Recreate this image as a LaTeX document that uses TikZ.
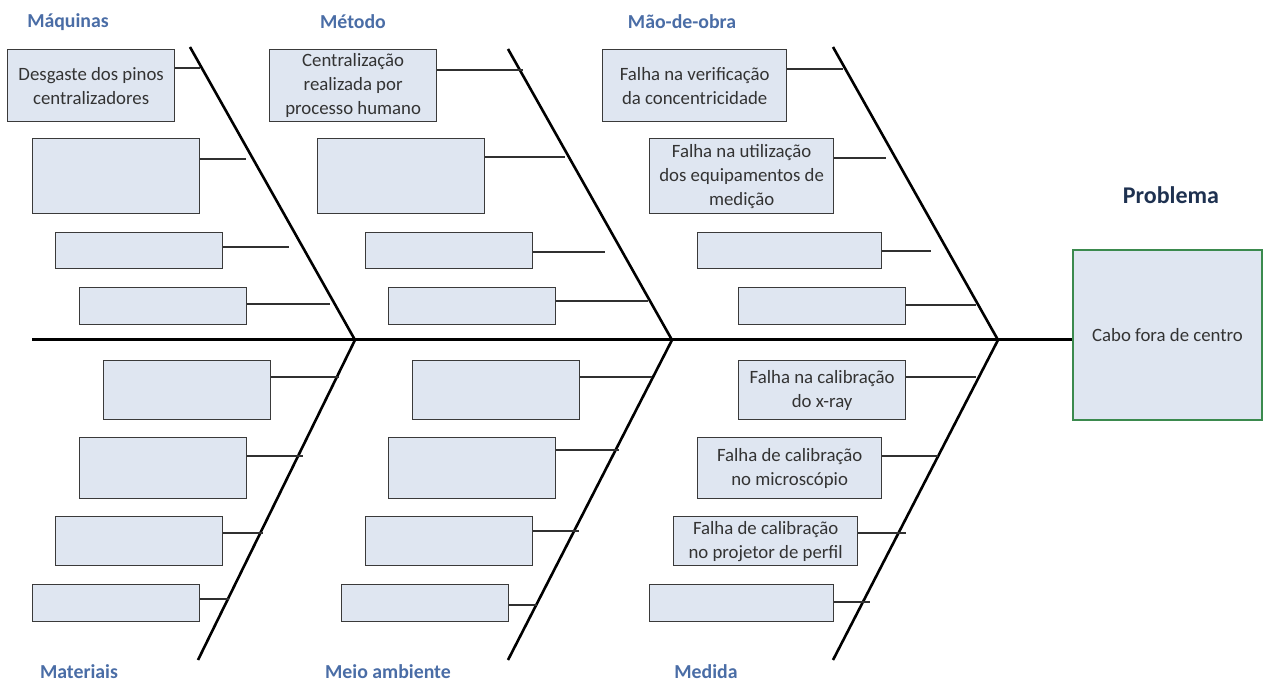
\documentclass[tikz,border=0pt]{standalone}
\usepackage{fontspec}
\setmainfont{Carlito}
\definecolor{boxfill}{HTML}{DFE6F1}
\definecolor{boxline}{HTML}{3A3A3A}
\definecolor{twiggray}{HTML}{303030}
\definecolor{catblue}{HTML}{4A6DA6}
\definecolor{probnavy}{HTML}{1E3150}
\definecolor{probgreen}{HTML}{3B8A4E}
\tikzset{
  cause/.style={draw=boxline, line width=1.3pt, fill=boxfill, inner sep=0pt,
    align=center, anchor=north west,
    font=\fontsize{18.8}{24}\selectfont, text=black!80},
  category/.style={font=\fontsize{19.8}{24}\selectfont\bfseries, text=catblue},
  lowcategory/.style={category, anchor=base, inner sep=0pt, text depth=0pt},
  bone/.style={line width=2.6pt, draw=black},
  spine/.style={line width=3pt, draw=black},
  twig/.style={line width=1.1pt, draw=twiggray},
  effect/.style={draw=probgreen, line width=2pt, fill=boxfill, inner sep=0pt,
    anchor=north west, minimum width=189pt, minimum height=170pt,
    font=\fontsize{18.8}{24}\selectfont, text=black!80}
}
\begin{document}
\begin{tikzpicture}[x=1pt, y=-1pt]
\path[use as bounding box] (0,0) rectangle (1263,684);

% effect box and its heading
\node[effect] (prob) at (1072,249) {Cabo fora de centro};
\node[font=\fontsize{24}{28}\selectfont\bfseries, text=probnavy] (probtitle) at (1171,195) {Problema};

% spine and joints
\coordinate (spineL) at (32,340);
\coordinate (j1) at (355,340);
\coordinate (j2) at (672,340);
\coordinate (j3) at (998,340);
\draw[spine] (spineL) -- (prob.west |- spineL);

% bones
\coordinate (maqTop) at (190,47);
\coordinate (metTop) at (508,49);
\coordinate (maoTop) at (833,47);
\coordinate (matBot) at (198,660);
\coordinate (meiBot) at (508,660);
\coordinate (medBot) at (833,660);
\draw[bone] (maqTop) -- (j1);
\draw[bone] (metTop) -- (j2);
\draw[bone] (maoTop) -- (j3);
\draw[bone] (j1) -- (matBot);
\draw[bone] (j2) -- (meiBot);
\draw[bone] (j3) -- (medBot);

% category headings
\node[category] (catMaq) at (68,22) {Máquinas};
\node[category] (catMet) at (353,22) {Método};
\node[category] (catMao) at (682,22) {Mão-de-obra};
\node[lowcategory] (catMat) at (79,678) {Materiais};
\node[lowcategory] (catMei) at (388,678) {Meio ambiente};
\node[lowcategory] (catMed) at (706,678) {Medida};

% Máquinas
\node[cause, minimum width=167pt, minimum height=72pt] (m1) at (7,49) {Desgaste dos pinos\\centralizadores};
\node[cause, minimum width=167pt, minimum height=75pt] (m2) at (32,138) {};
\node[cause, minimum width=167pt, minimum height=36pt] (m3) at (55,232) {};
\node[cause, minimum width=167pt, minimum height=37pt] (m4) at (79,287) {};
\coordinate (cm1) at (200,68);
\coordinate (cm2) at (246,159);
\coordinate (cm3) at (289,247);
\coordinate (cm4) at (330,304);
\foreach \n in {1,...,4} \draw[twig] (m\n.east |- cm\n) -- (cm\n);

% Método
\node[cause, minimum width=167pt, minimum height=72pt] (t1) at (269,49) {Centralização\\realizada por\\processo humano};
\node[cause, minimum width=167pt, minimum height=75pt] (t2) at (317,138) {};
\node[cause, minimum width=167pt, minimum height=36pt] (t3) at (365,232) {};
\node[cause, minimum width=167pt, minimum height=37pt] (t4) at (388,287) {};
\coordinate (ct1) at (523,70);
\coordinate (ct2) at (565,157);
\coordinate (ct3) at (605,252);
\coordinate (ct4) at (648,301);
\foreach \n in {1,...,4} \draw[twig] (t\n.east |- ct\n) -- (ct\n);

% Mão-de-obra
\node[cause, minimum width=184pt, minimum height=72pt] (o1) at (602,49) {Falha na verificação\\da concentricidade};
\node[cause, minimum width=184pt, minimum height=75pt] (o2) at (649,138) {Falha na utilização\\dos equipamentos de\\medição};
\node[cause, minimum width=184pt, minimum height=36pt] (o3) at (697,232) {};
\node[cause, minimum width=167pt, minimum height=37pt] (o4) at (738,287) {};
\coordinate (co1) at (843,69);
\coordinate (co2) at (886,158);
\coordinate (co3) at (931,251);
\coordinate (co4) at (976,305);
\foreach \n in {1,...,4} \draw[twig] (o\n.east |- co\n) -- (co\n);

% Materiais
\node[cause, minimum width=167pt, minimum height=59pt] (a1) at (103,360) {};
\node[cause, minimum width=167pt, minimum height=61pt] (a2) at (79,437) {};
\node[cause, minimum width=167pt, minimum height=49pt] (a3) at (55,516) {};
\node[cause, minimum width=167pt, minimum height=37pt] (a4) at (32,584) {};
\coordinate (ca1) at (339,377);
\coordinate (ca2) at (303,456);
\coordinate (ca3) at (263,533);
\coordinate (ca4) at (229,599);
\foreach \n in {1,...,4} \draw[twig] (a\n.east |- ca\n) -- (ca\n);

% Meio ambiente
\node[cause, minimum width=167pt, minimum height=59pt] (e1) at (412,360) {};
\node[cause, minimum width=167pt, minimum height=61pt] (e2) at (388,437) {};
\node[cause, minimum width=167pt, minimum height=49pt] (e3) at (365,516) {};
\node[cause, minimum width=167pt, minimum height=37pt] (e4) at (341,584) {};
\coordinate (ce1) at (652,377);
\coordinate (ce2) at (619,450);
\coordinate (ce3) at (579,531);
\coordinate (ce4) at (537,605);
\foreach \n in {1,...,4} \draw[twig] (e\n.east |- ce\n) -- (ce\n);

% Medida
\node[cause, minimum width=167pt, minimum height=59pt] (d1) at (738,360) {Falha na calibração\\do x-ray};
\node[cause, minimum width=184pt, minimum height=61pt] (d2) at (697,437) {Falha de calibração\\no microscópio};
\node[cause, minimum width=184pt, minimum height=49pt] (d3) at (673,516) {Falha de calibração\\no projetor de perfil};
\node[cause, minimum width=184pt, minimum height=37pt] (d4) at (649,584) {};
\coordinate (cd1) at (976,377);
\coordinate (cd2) at (938,456);
\coordinate (cd3) at (906,533);
\coordinate (cd4) at (870,602);
\foreach \n in {1,...,4} \draw[twig] (d\n.east |- cd\n) -- (cd\n);
\end{tikzpicture}
\end{document}
